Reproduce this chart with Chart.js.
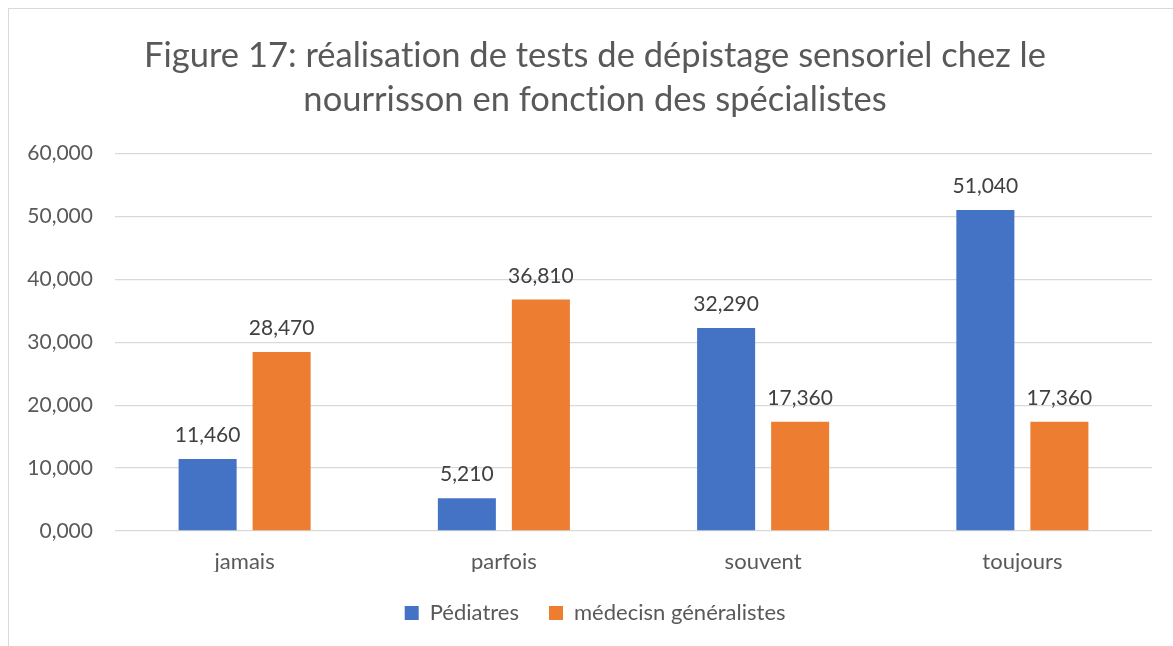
<!DOCTYPE html>
<html>
<head>
<meta charset="utf-8">
<script src="https://cdn.jsdelivr.net/npm/chart.js@4/dist/chart.umd.min.js"></script>
<style>
  html, body { margin: 0; padding: 0; background: #fff; overflow: hidden; }
  #wrap { position: absolute; left: 8px; top: 8px; width: 1180px; height: 650px;
          border-left: 1px solid #d9d9d9; border-top: 1px solid #d9d9d9; }
  canvas { position: absolute; left: 0; top: 0; font-variant-ligatures: none; }
</style>
</head>
<body>
<div id="wrap"><canvas id="c" width="1172" height="637"></canvas></div>
<script>
const categories = ["jamais", "parfois", "souvent", "toujours"];
const pediatres = [11.46, 5.21, 32.29, 51.04];
const generalistes = [28.47, 36.81, 17.36, 17.36];
const seriesNames = ["Pédiatres", "médecisn généralistes"];
const titleLines = ["Figure 17: réalisation de tests de dépistage sensoriel chez le", "nourrisson en fonction des spécialistes"];
const yTicks = [0, 10, 20, 30, 40, 50, 60];

const FONT = "Lato";
const fmt = v => v.toFixed(3).replace('.', ',');

const noLigatures = {
  id: 'noLigatures',
  beforeDraw(chart) {
    const ctx = chart.ctx;
    if ('letterSpacing' in ctx) ctx.letterSpacing = '0.01px';
  }
};

const labelPlugin = {
  id: 'barLabels',
  afterDatasetsDraw(chart) {
    const ctx = chart.ctx;
    ctx.save();
    ctx.font = `21px ${FONT}`;
    ctx.fillStyle = '#404040';
    ctx.textAlign = 'center';
    ctx.textBaseline = 'alphabetic';
    chart.data.datasets.forEach((ds, i) => {
      chart.getDatasetMeta(i).data.forEach((bar, j) => {
        ctx.fillText(fmt(ds.data[j]), bar.x, bar.y - 17);
      });
    });
    ctx.restore();
  }
};

new Chart(document.getElementById('c'), {
  type: 'bar',
  data: {
    labels: categories,
    datasets: [
      { label: seriesNames[0], data: pediatres, backgroundColor: '#4472C4', borderWidth: 0,
        categoryPercentage: 0.571, barPercentage: 0.784 },
      { label: seriesNames[1], data: generalistes, backgroundColor: '#ED7D31', borderWidth: 0,
        categoryPercentage: 0.571, barPercentage: 0.784 }
    ]
  },
  options: {
    responsive: false,
    animation: false,
    layout: { padding: { left: 0, right: 0, top: 0, bottom: 12 } },
    plugins: {
      title: {
        display: true,
        text: titleLines,
        color: '#595959',
        font: { family: FONT, size: 34.5, weight: 'normal', lineHeight: 1.3 },
        padding: { top: 24, bottom: 31 }
      },
      legend: {
        position: 'bottom',
        labels: {
          color: '#595959',
          font: { family: FONT, size: 22 },
          boxWidth: 14, boxHeight: 14,
          padding: 30
        }
      },
      tooltip: { enabled: false }
    },
    scales: {
      x: {
        grid: { display: false },
        border: { display: false },
        ticks: { color: '#595959', font: { family: FONT, size: 22 }, padding: 10 },
        afterFit(scale) { scale.height = 41; }
      },
      y: {
        min: 0, max: 60,
        afterBuildTicks(scale) { scale.ticks = yTicks.map(v => ({ value: v })); },
        grid: { color: '#d9d9d9', lineWidth: 1.3, drawTicks: false },
        border: { display: false },
        ticks: { color: '#595959', font: { family: FONT, size: 21 }, padding: 22,
                 callback: v => fmt(v) },
        afterFit(scale) { scale.width = 106; }
      },
      yRight: {
        position: 'right',
        display: true,
        grid: { display: false, drawTicks: false },
        border: { display: false },
        ticks: { display: false },
        afterFit(scale) { scale.width = 29; }
      }
    }
  },
  plugins: [noLigatures, labelPlugin]
});
</script>
</body>
</html>
